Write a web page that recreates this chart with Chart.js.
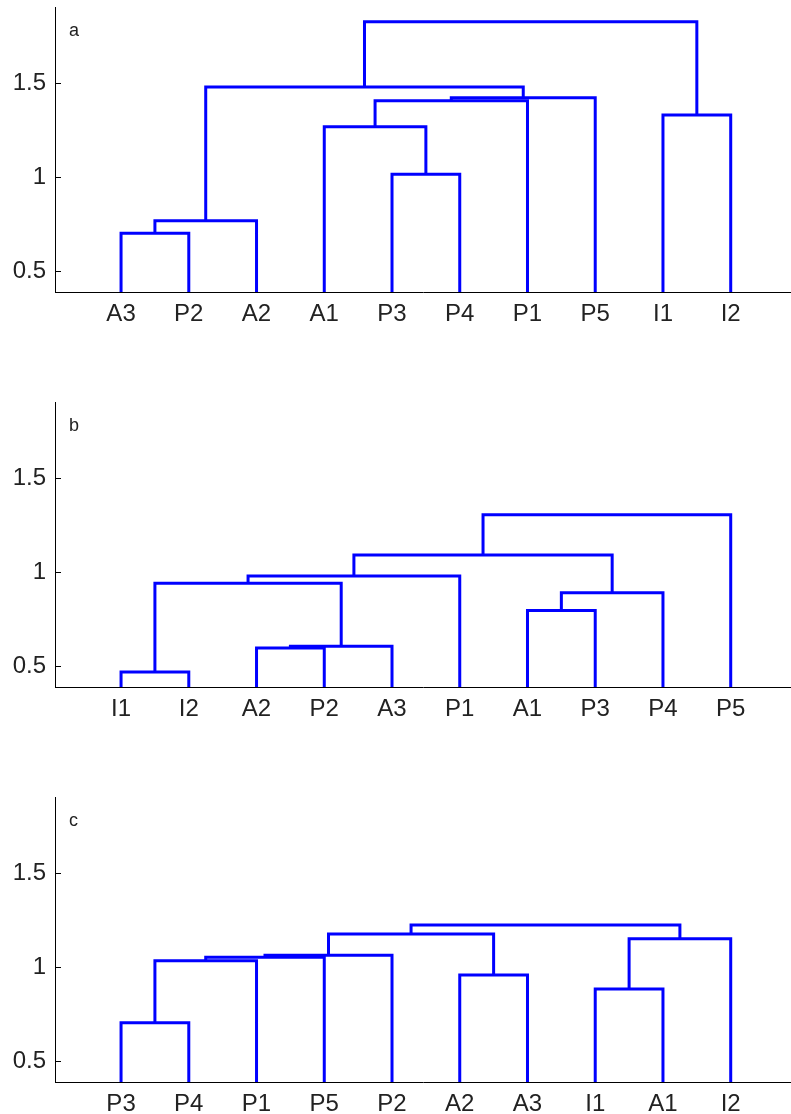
<!DOCTYPE html>
<html>
<head>
<meta charset="utf-8">
<script src="https://cdn.jsdelivr.net/npm/chart.js@4.4.1/dist/chart.umd.min.js"></script>
<style>
  html, body { margin:0; padding:0; background:#fff; overflow:hidden; }
  .panel { position:absolute; left:0; width:791px; height:332px; }
</style>
</head>
<body>
<div class="panel" style="top:0px"><canvas id="chartA" width="791" height="332"></canvas></div>
<div class="panel" style="top:395px"><canvas id="chartB" width="791" height="332"></canvas></div>
<div class="panel" style="top:790px"><canvas id="chartC" width="791" height="332"></canvas></div>
<script>
// leaf order along the x axis, per panel
const leavesA = ["A3","P2","A2","A1","P3","P4","P1","P5","I1","I2"];
const leavesB = ["I1","I2","A2","P2","A3","P1","A1","P3","P4","P5"];
const leavesC = ["P3","P4","P1","P5","P2","A2","A3","I1","A1","I2"];

// merges: [left, right] -> ids < 10 are leaves, id 10+k is the k-th merge
const pairsA = [[0,1],[10,2],[4,5],[3,12],[13,6],[14,7],[8,9],[11,15],[17,16]];
const heightsA = [0.702, 0.769, 1.016, 1.269, 1.406, 1.423, 1.331, 1.480, 1.826];

const pairsB = [[0,1],[2,3],[11,4],[10,12],[13,5],[6,7],[15,8],[14,16],[17,9]];
const heightsB = [0.470, 0.597, 0.606, 0.942, 0.980, 0.797, 0.891, 1.092, 1.306];

const pairsC = [[0,1],[10,2],[11,3],[12,4],[5,6],[13,14],[7,8],[16,9],[15,17]];
const heightsC = [0.705, 1.035, 1.053, 1.064, 0.959, 1.177, 0.884, 1.151, 1.225];

const yTicks = [0.5, 1, 1.5];
const FONT = '"Liberation Sans", Arial, sans-serif';

function buildLinks(leaves, pairs, heights){
  const pos = [], hgt = [];
  leaves.forEach((_, i) => { pos[i] = i + 1; hgt[i] = 0; });
  return pairs.map(([l, r], k) => {
    const h = heights[k];
    const id = leaves.length + k;
    pos[id] = (pos[l] + pos[r]) / 2;
    hgt[id] = h;
    return {
      data: [
        { x: pos[l], y: hgt[l] }, { x: pos[l], y: h },
        { x: pos[r], y: h },      { x: pos[r], y: hgt[r] }
      ],
      showLine: true,
      borderColor: "#0000ff",
      borderWidth: 3,
      borderJoinStyle: "miter",
      borderCapStyle: "butt",
      pointRadius: 0,
      tension: 0
    };
  });
}

// inward y ticks + panel letter
const decor = {
  id: "decor",
  afterDraw(chart, args, opts){
    const { ctx, chartArea, scales } = chart;
    ctx.save();
    ctx.strokeStyle = "#000";
    ctx.lineWidth = 1;
    yTicks.forEach(v => {
      const py = Math.round(scales.y.getPixelForValue(v)) + 0.5;
      ctx.beginPath();
      ctx.moveTo(chartArea.left, py);
      ctx.lineTo(chartArea.left + 6, py);
      ctx.stroke();
    });
    ctx.fillStyle = "#222";
    ctx.font = "18px " + FONT;
    ctx.textBaseline = "alphabetic";
    ctx.fillText(opts.letter, chartArea.left + 14, chartArea.top + 29);
    ctx.restore();
  }
};

function makeChart(id, letter, leaves, pairs, heights){
  const ctx = document.getElementById(id).getContext("2d");
  return new Chart(ctx, {
    type: "scatter",
    data: { datasets: buildLinks(leaves, pairs, heights) },
    plugins: [decor],
    options: {
      responsive: false,
      animation: false,
      devicePixelRatio: 1,
      layout: { padding: { top: 7, left: 0, right: 0, bottom: 0 } },
      plugins: {
        legend: { display: false },
        tooltip: { enabled: false },
        decor: { letter }
      },
      scales: {
        x: {
          type: "linear",
          min: 0.025, max: 10.89,
          grid: { display: false, drawTicks: false },
          border: { display: true, color: "#000", width: 1 },
          afterBuildTicks: s => { s.ticks = leaves.map((_, i) => ({ value: i + 1 })); },
          afterFit: s => { s.height = 40; s.paddingLeft = 0; s.paddingRight = 0; },
          ticks: {
            autoSkip: false, maxRotation: 0, padding: 8,
            color: "#222", font: { family: FONT, size: 24 },
            callback: v => leaves[Math.round(v) - 1] || ""
          }
        },
        y: {
          min: 0.39, max: 1.905,
          grid: { display: false, drawTicks: false },
          border: { display: true, color: "#000", width: 1 },
          afterBuildTicks: s => { s.ticks = yTicks.map(v => ({ value: v })); },
          afterFit: s => { s.width = 55; s.paddingTop = 0; s.paddingBottom = 0; },
          ticks: {
            padding: 9,
            color: "#222", font: { family: FONT, size: 24 },
            callback: v => String(v)
          }
        }
      }
    }
  });
}

makeChart("chartA", "a", leavesA, pairsA, heightsA);
makeChart("chartB", "b", leavesB, pairsB, heightsB);
makeChart("chartC", "c", leavesC, pairsC, heightsC);
</script>
</body>
</html>
